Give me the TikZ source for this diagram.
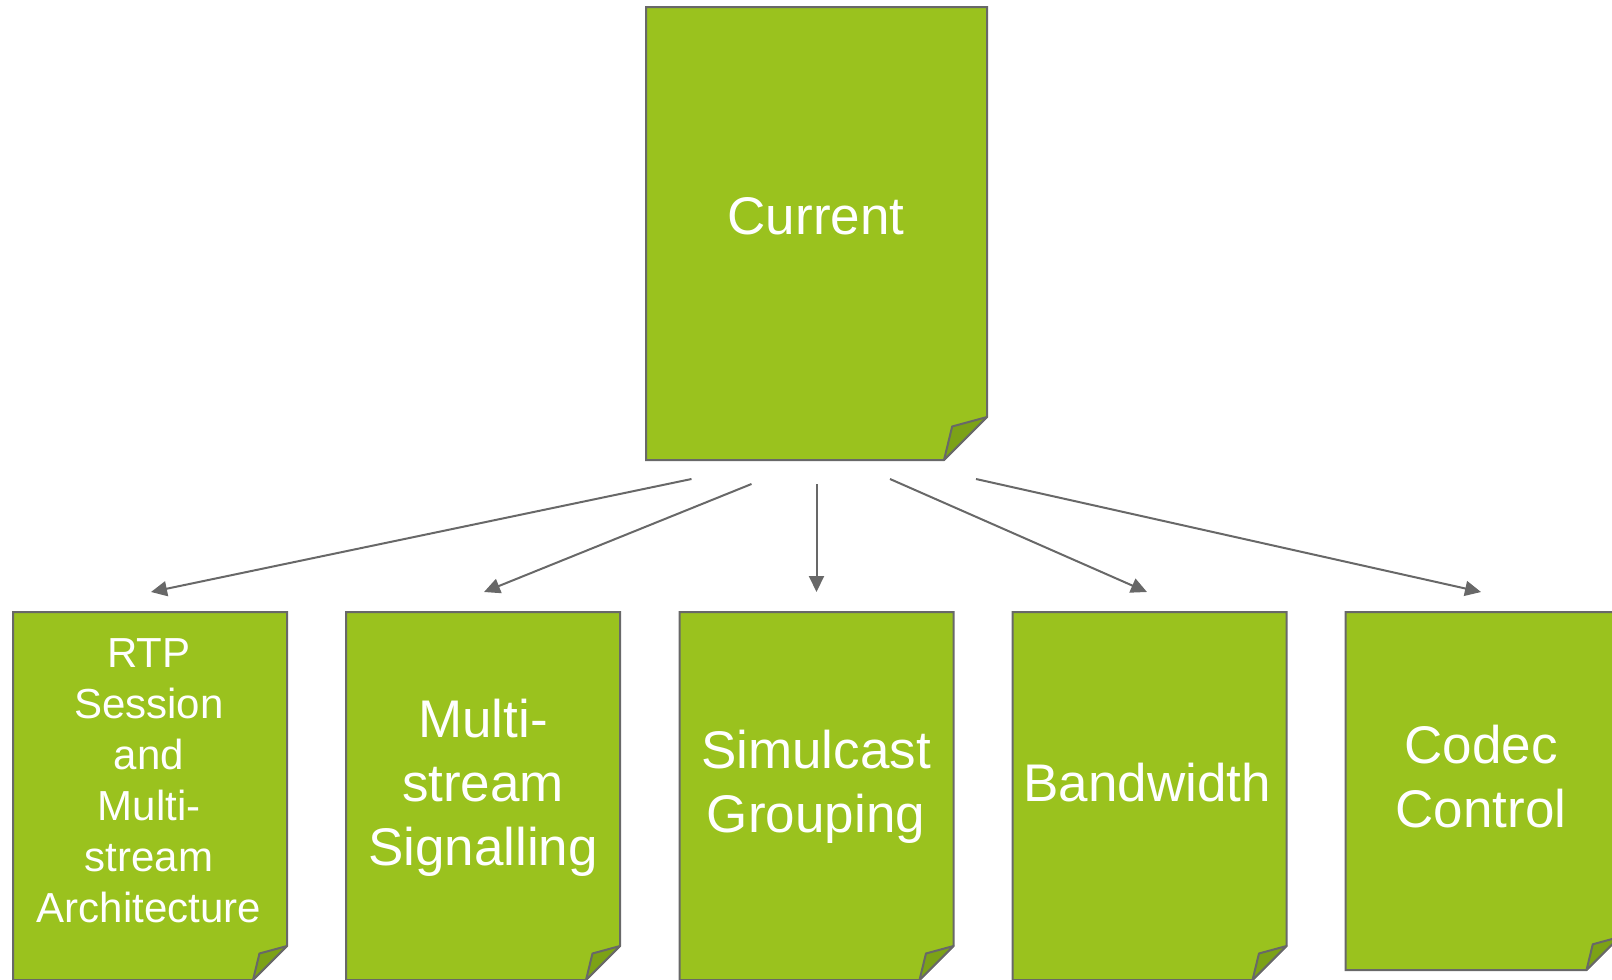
\documentclass[tikz,border=0pt]{standalone}
\usepackage{fontspec}
\setmainfont{Liberation Sans}
\usetikzlibrary{calc,arrows.meta}
\definecolor{leaf}{RGB}{154,194,30}
\definecolor{leafdark}{RGB}{124,162,22}
\definecolor{edgegray}{RGB}{104,104,104}
\tikzset{
  page/.style={inner sep=0pt, outer sep=0pt, minimum width=137pt, minimum height=184pt},
  pagetext/.style={text=white, align=center, inner sep=0pt, font=\fontsize{26.5}{32}\selectfont},
  smalltext/.style={text=white, align=center, inner sep=0pt, font=\fontsize{21}{25.5}\selectfont},
  conn/.style={draw=edgegray, line width=1pt, -{Triangle[length=8pt,width=7.5pt]}},
}
\newcommand\foldpage[2]{%
  \filldraw[fill=leaf, draw=edgegray, line width=1pt, line join=miter]
    (#1.north west) -- (#1.north east) -- ($(#1.south east)+(0,-#2)$)
    -- ($(#1.south east)+(-#2,0)$) -- (#1.south west) -- cycle;
  \filldraw[fill=leafdark, draw=edgegray, line width=1pt, line join=round]
    ($(#1.south east)+(0,-#2)$) -- ($(#1.south east)+(-0.81*#2,-0.78*#2)$)
    -- ($(#1.south east)+(-#2,0)$) -- cycle;
}
\begin{document}
\begin{tikzpicture}[x=0.5pt, y=-0.5pt]
\useasboundingbox (0,0) rectangle (1612,980);
\clip (0,0) rectangle (1612,980);
% boxes
\node[page, minimum width=170.5pt, minimum height=226.5pt] (cur) at (816.5,233.5) {};
\node[page] (rtp) at (150,796) {};
\node[page] (msig) at (483,796) {};
\node[page] (simul) at (816.5,796) {};
\node[page] (bw) at (1149.5,796) {};
\node[page, minimum height=179pt] (codec) at (1482.5,791) {};
\foldpage{cur}{43}
\foldpage{rtp}{34}
\foldpage{msig}{34}
\foldpage{simul}{34}
\foldpage{bw}{34}
\foldpage{codec}{33}
% texts
\node[pagetext] (curt) at (816,216) {Current};
\node[smalltext] (rtpt) at (149,781) {RTP\\Session\\and\\Multi-\\stream\\Architecture};
\node[pagetext] (msigt) at (483,788) {Multi-\\stream\\Signalling};
\node[pagetext] (simult) at (816,787) {Simulcast\\Grouping};
\node[pagetext] (bwt) at (1147,783) {Bandwidth};
\node[pagetext] (codect) at (1481,777) {Codec\\Control};
% connectors
\coordinate (s1) at ($(cur.south)+(-125,19)$);
\coordinate (s2) at ($(cur.south)+(-65,24)$);
\coordinate (s3) at ($(cur.south)+(0,24)$);
\coordinate (s4) at ($(cur.south)+(73.5,19)$);
\coordinate (s5) at ($(cur.south)+(159.5,19)$);
\coordinate (e1) at ($(rtp.north)+(1,-20)$);
\coordinate (e2) at ($(msig.north)+(1,-20)$);
\coordinate (e3) at ($(simul.north)+(0,-20)$);
\coordinate (e4) at ($(bw.north)+(-2.5,-20)$);
\coordinate (e5) at ($(codec.north)+(-1.5,-20)$);
\draw[conn] (s1) -- (e1);
\draw[conn] (s2) -- (e2);
\draw[conn] (s3) -- (e3);
\draw[conn] (s4) -- (e4);
\draw[conn] (s5) -- (e5);
\end{tikzpicture}
\end{document}
